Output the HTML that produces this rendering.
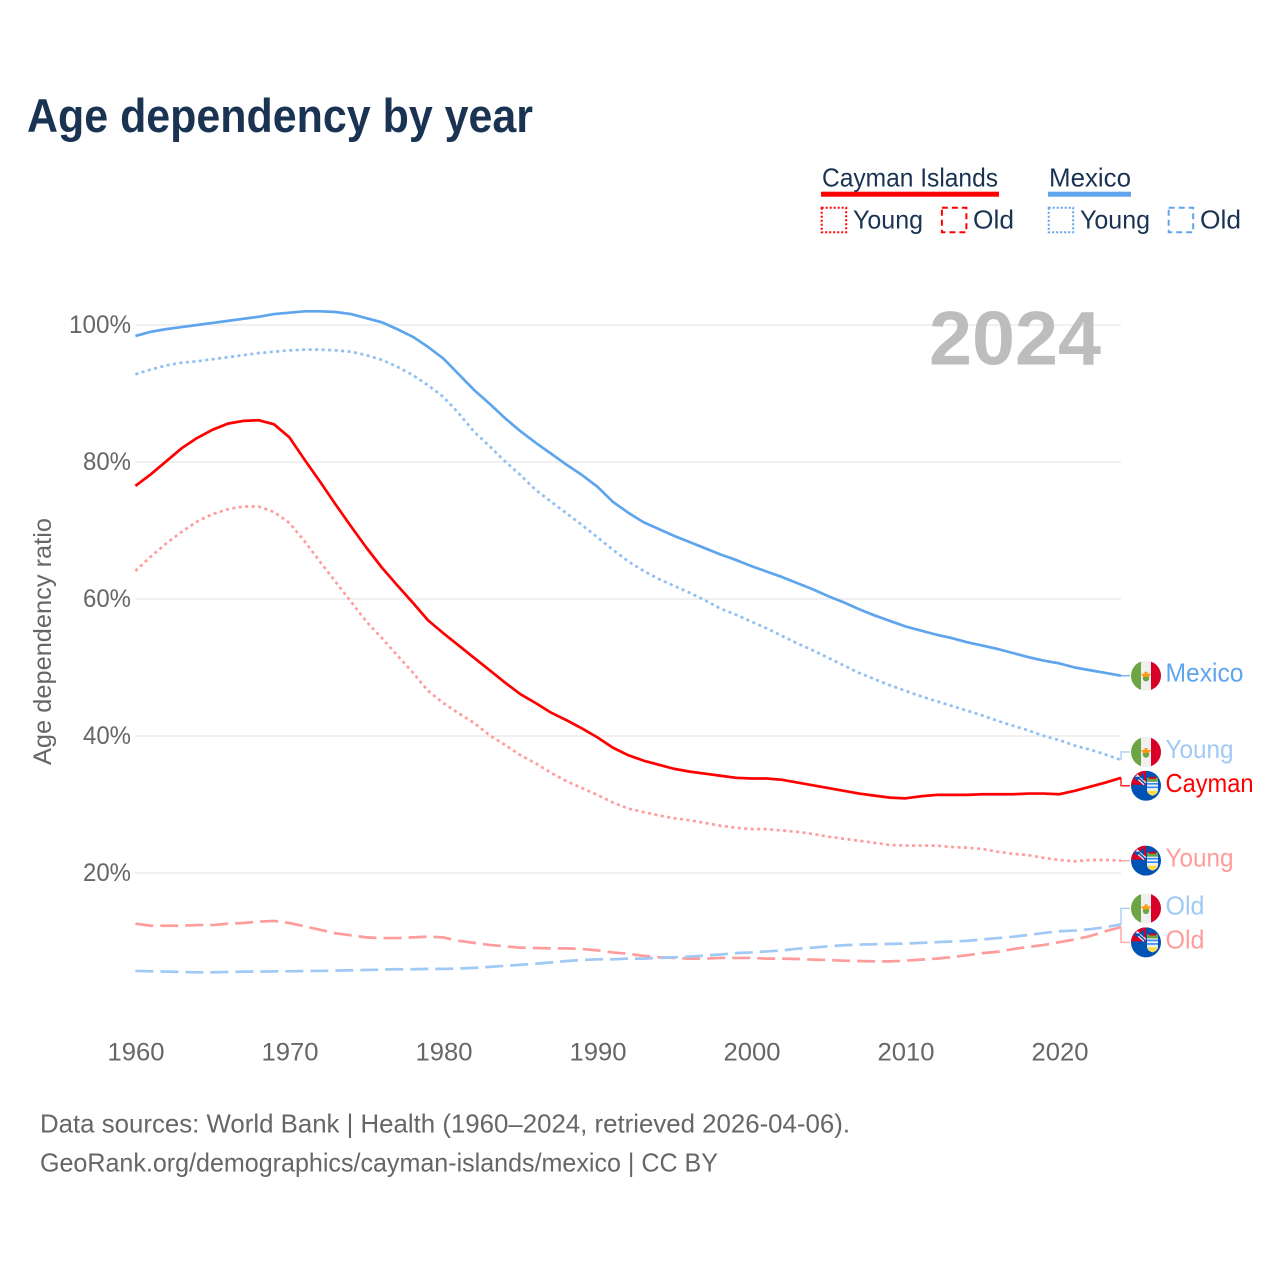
<!DOCTYPE html>
<html lang="en">
<head>
<meta charset="utf-8">
<title>Age dependency by year</title>
<style>
html,body{margin:0;padding:0;background:#fff;}
svg{display:block;font-family:"Liberation Sans",sans-serif;}
</style>
</head>
<body>
<svg id="chart" xmlns="http://www.w3.org/2000/svg" width="1280" height="1280" viewBox="0 0 1280 1280">
<defs>
<clipPath id="flag-clip"><circle cx="0" cy="0" r="15"/></clipPath>
<g id="flag-mx" clip-path="url(#flag-clip)">
<rect x="-15" y="-15" width="30" height="30" fill="#f0f0f0"/>
<rect x="-15" y="-15" width="10" height="30" fill="#6da544"/>
<rect x="5" y="-15" width="10" height="30" fill="#d80027"/>
<circle cx="0" cy="2.5" r="3.2" fill="#6da544"/>
<path d="M-5 -2 L5 -2 L3 1 L-3 1 Z" fill="#ff9811"/>
<path d="M-1.5 -4 L1.5 -4 L1.5 0 L-1.5 0 Z" fill="#ff9811"/>
</g>
<g id="flag-ky" clip-path="url(#flag-clip)">
<rect x="-15" y="-15" width="30" height="30" fill="#0052b4"/>
<rect x="-15" y="-15" width="15" height="14" fill="#d80027"/>
<path d="M-10 -10 L-1 -2" stroke="#f0f0f0" stroke-width="4"/>
<path d="M-10 -10 L-1 -2" stroke="#0052b4" stroke-width="1.5"/>
<rect x="-10" y="-10" width="3" height="3" fill="#f0f0f0"/>
<path d="M-13 -9 L-5 -9 L-9 -5 Z" fill="#0052b4"/>
<path d="M-2 -13 L-2 -5 L-6 -9 Z" fill="#0052b4"/>
<rect x="1" y="-8" width="11" height="4" fill="#6da544"/>
<rect x="3" y="-9" width="7" height="2" fill="#d80027"/>
<path d="M1 -4 H12 V4 C12 8 9 9 6.5 10 C4 9 1 8 1 4 Z" fill="#f0f0f0"/>
<path d="M1 -2 H12 M1 1.5 H12" stroke="#338af3" stroke-width="1.6"/>
<path d="M1.5 5 H11.5 C11 8 9 9 6.5 10 C4 9 2 8 1.5 5 Z" fill="#ffda44"/>
</g>
</defs>
<text x="27" y="132" font-size="47" font-weight="700" fill="#1a3353" textLength="506" lengthAdjust="spacingAndGlyphs">Age dependency by year</text>

<g font-size="26" fill="#1a3353">
<text x="822" y="186.3" textLength="176" lengthAdjust="spacingAndGlyphs">Cayman Islands</text>
<rect x="821" y="191.7" width="178" height="5" fill="#ff0000"/>
<text x="1049" y="186.3" textLength="82" lengthAdjust="spacingAndGlyphs">Mexico</text>
<rect x="1048" y="191.7" width="83" height="5" fill="#5fa5ee"/>
<rect x="821.7" y="207.7" width="24.5" height="24.5" fill="none" stroke="#ff0000" stroke-width="2" stroke-dasharray="2 2"/>
<text x="853" y="228.3" textLength="70" lengthAdjust="spacingAndGlyphs">Young</text>
<rect x="941.9" y="207.7" width="24.5" height="24.5" fill="none" stroke="#ff0000" stroke-width="2" stroke-dasharray="6 4"/>
<text x="973" y="228.3" textLength="41" lengthAdjust="spacingAndGlyphs">Old</text>
<rect x="1048.7" y="207.7" width="24.5" height="24.5" fill="none" stroke="#5fa5ee" stroke-width="2" stroke-dasharray="2 2"/>
<text x="1080" y="228.3" textLength="70" lengthAdjust="spacingAndGlyphs">Young</text>
<rect x="1168.7" y="207.7" width="24.5" height="24.5" fill="none" stroke="#5fa5ee" stroke-width="2" stroke-dasharray="6 4"/>
<text x="1200" y="228.3" textLength="41" lengthAdjust="spacingAndGlyphs">Old</text>
</g>

<g id="grid"></g>
<g id="yticks"></g>
<g id="xticks"></g>
<text transform="translate(51,765) rotate(-90)" x="0" y="0" font-size="25" fill="#666666" textLength="247" lengthAdjust="spacingAndGlyphs">Age dependency ratio</text>
<g id="series"></g>
<g id="labels"></g>
<text x="929" y="364.5" font-size="76" font-weight="700" fill="#bdbdbd" textLength="172" lengthAdjust="spacingAndGlyphs">2024</text>

<g font-size="26" fill="#666666">
<text x="40" y="1132.3" textLength="810" lengthAdjust="spacingAndGlyphs">Data sources: World Bank | Health (1960–2024, retrieved 2026-04-06).</text>
<text x="40" y="1171.3" textLength="678" lengthAdjust="spacingAndGlyphs">GeoRank.org/demographics/cayman-islands/mexico | CC BY</text>
</g>
</svg>
<script>
const startYear = 1960;
const xTickYears = [1960, 1970, 1980, 1990, 2000, 2010, 2020];
const yTickValues = [20, 40, 60, 80, 100];
const mexicoTotal = [98.4,99.0,99.4,99.7,100.0,100.3,100.6,100.9,101.2,101.6,101.8,102.0,102.0,101.9,101.6,101.0,100.4,99.4,98.3,96.8,95.1,92.8,90.5,88.5,86.4,84.5,82.8,81.2,79.6,78.1,76.4,74.2,72.6,71.2,70.2,69.2,68.3,67.4,66.5,65.7,64.8,64.0,63.2,62.3,61.4,60.4,59.5,58.5,57.6,56.8,56.0,55.4,54.8,54.3,53.7,53.2,52.7,52.1,51.5,51.0,50.6,50.0,49.6,49.2,48.8];
const mexicoYoung = [92.8,93.5,94.1,94.5,94.7,95.0,95.3,95.6,95.9,96.1,96.3,96.4,96.4,96.3,96.1,95.6,94.9,93.9,92.7,91.2,89.5,87.1,84.4,82.3,80.1,78.1,75.9,74.2,72.5,70.8,69.0,67.2,65.5,64.1,62.9,61.9,60.9,59.8,58.6,57.7,56.7,55.7,54.6,53.5,52.5,51.4,50.3,49.2,48.3,47.4,46.6,45.8,45.1,44.4,43.7,43.0,42.2,41.5,40.8,40.0,39.4,38.6,38.0,37.3,36.5];
const mexicoOld = [5.7,5.65,5.6,5.55,5.5,5.5,5.55,5.6,5.6,5.65,5.65,5.7,5.7,5.75,5.8,5.85,5.9,5.95,5.95,6.0,6.0,6.05,6.15,6.3,6.45,6.6,6.75,6.95,7.15,7.3,7.4,7.4,7.5,7.5,7.6,7.7,7.8,7.95,8.1,8.3,8.4,8.55,8.7,8.95,9.1,9.3,9.45,9.55,9.6,9.65,9.7,9.8,9.9,10.0,10.1,10.3,10.5,10.7,10.95,11.25,11.5,11.6,11.8,12.1,12.5];
const caymanTotal = [76.5,78.2,80.1,82.0,83.5,84.7,85.6,86.0,86.1,85.5,83.6,80.3,77.1,73.8,70.6,67.5,64.6,62.0,59.5,56.9,55.0,53.2,51.4,49.6,47.8,46.1,44.8,43.4,42.3,41.1,39.8,38.3,37.2,36.4,35.8,35.2,34.8,34.5,34.2,33.9,33.8,33.8,33.6,33.2,32.8,32.4,32.0,31.6,31.3,31.0,30.9,31.2,31.4,31.4,31.4,31.5,31.5,31.5,31.6,31.6,31.5,32.0,32.6,33.2,33.9];
const caymanYoung = [64.1,66.2,68.1,69.8,71.3,72.4,73.1,73.5,73.5,72.7,71.1,68.4,65.4,62.5,59.6,56.7,54.3,51.8,49.3,46.6,44.8,43.3,41.9,40.1,38.7,37.2,36.0,34.6,33.4,32.4,31.4,30.3,29.4,28.9,28.4,28.0,27.7,27.3,26.9,26.6,26.4,26.4,26.2,26.0,25.7,25.3,25.0,24.7,24.4,24.1,24.0,24.0,24.0,23.8,23.7,23.5,23.1,22.8,22.6,22.2,21.9,21.7,21.9,21.9,21.8];
const caymanOld = [12.6,12.3,12.3,12.3,12.4,12.4,12.6,12.7,12.9,13.0,12.7,12.2,11.7,11.2,10.9,10.6,10.5,10.5,10.6,10.7,10.6,10.1,9.8,9.5,9.3,9.1,9.05,9.0,9.0,8.9,8.7,8.4,8.2,7.9,7.7,7.6,7.5,7.5,7.6,7.6,7.6,7.5,7.5,7.45,7.35,7.3,7.2,7.15,7.1,7.1,7.2,7.35,7.5,7.7,8.0,8.3,8.5,8.9,9.2,9.5,9.9,10.3,10.8,11.5,12.1];

const NS = 'http://www.w3.org/2000/svg';
function xScale(year) { return 135.4 + (year - startYear) * 15.4; }
function yScale(pct) { return 1010 - pct * 6.85; }
function make(parent, tag, attrs, text) {
  const el = document.createElementNS(NS, tag);
  for (const k in attrs) el.setAttribute(k, attrs[k]);
  if (text !== undefined) el.textContent = text;
  parent.appendChild(el);
  return el;
}
const gridGroup = document.getElementById('grid');
const yTickGroup = document.getElementById('yticks');
const xTickGroup = document.getElementById('xticks');
const seriesGroup = document.getElementById('series');
const labelGroup = document.getElementById('labels');

yTickValues.forEach(function (v) {
  const line = make(gridGroup, 'line', {x1: 135.4, x2: 1121, y1: yScale(v), y2: yScale(v), stroke: '#ececec', 'stroke-width': 1.4});
  
  
  const label = make(yTickGroup, 'text', {x: 131, y: yScale(v) + 8, 'text-anchor': 'end', 'font-size': 25, fill: '#666666', textLength: v === 100 ? 62 : 48, lengthAdjust: 'spacingAndGlyphs'}, v + '%');
  
  
});
xTickYears.forEach(function (yr) {
  const label = make(xTickGroup, 'text', {x: xScale(yr) + 0.6, y: 1060.5, 'text-anchor': 'middle', 'font-size': 25, fill: '#666666', textLength: 57, lengthAdjust: 'spacingAndGlyphs'}, String(yr));
  
  
});

function pathFor(values) {
  return values.map(function (v, i) {
    return (i ? 'L' : 'M') + xScale(startYear + i).toFixed(2) + ' ' + yScale(v).toFixed(2);
  }).join(' ');
}
const DOT = '3 3.5';
const DASH = '18 7';
const BLUE = '#5fa5ee', RED = '#ff0000', LBLUE = '#a0c9f5', LRED = '#ff9c9c';
const seriesList = [
  {key: 'cayman-old', values: caymanOld, color: LRED, dash: DASH, flag: 'flag-ky', text: 'Old', width: 39, offset: 15.3},
  {key: 'mexico-old', values: mexicoOld, color: LBLUE, dash: DASH, flag: 'flag-mx', text: 'Old', width: 39, offset: -16},
  {key: 'cayman-young', values: caymanYoung, color: LRED, dash: DOT, flag: 'flag-ky', text: 'Young', width: 68, offset: 0},
  {key: 'mexico-young', values: mexicoYoung, color: '#8fbff3', labelColor: LBLUE, dash: DOT, flag: 'flag-mx', text: 'Young', width: 68, offset: -8},
  {key: 'cayman-total', values: caymanTotal, color: RED, dash: null, flag: 'flag-ky', text: 'Cayman', width: 88, offset: 8},
  {key: 'mexico-total', values: mexicoTotal, color: BLUE, dash: null, flag: 'flag-mx', text: 'Mexico', width: 78, offset: 0}
];
seriesList.forEach(function (s) {
  const attrs = {d: pathFor(s.values), fill: 'none', stroke: s.color, 'stroke-width': 2.7, 'stroke-linejoin': 'round'};
  if (s.dash) attrs['stroke-dasharray'] = s.dash;
  const line = make(seriesGroup, 'path', attrs);
  
  

  const last = s.values[s.values.length - 1];
  const endX = xScale(startYear + s.values.length - 1);
  const endY = yScale(last);
  const labelY = endY + s.offset;
  const leader = make(labelGroup, 'path', {d: 'M' + endX + ' ' + endY + ' L' + endX + ' ' + labelY + ' L1130 ' + labelY, fill: 'none', stroke: s.labelColor || s.color, 'stroke-width': 1.5, opacity: 0.85});
  
  
  const flag = make(labelGroup, 'use', {href: '#' + s.flag, transform: 'translate(1146,' + labelY + ')'});
  
  
  const label = make(labelGroup, 'text', {x: 1165.5, y: labelY + 6, 'font-size': 26, fill: s.labelColor || s.color, textLength: s.width, lengthAdjust: 'spacingAndGlyphs'}, s.text);
  
  
});
</script>
</body>
</html>
